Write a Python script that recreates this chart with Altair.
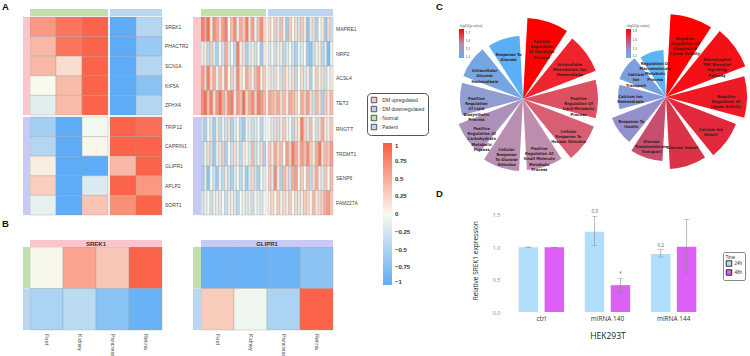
import altair as alt
import pandas as pd

# ---------------- Panel A, left: DM genes (z-scores) ----------------
up_genes = ["SREK1", "PHACTR2", "SCN1A", "KIF5A", "ZFHX4"]
down_genes = ["TRIP12", "CAPRIN1", "GLIPR1", "APLP2", "SORT1"]
# columns: normal x3, patient x2
srek1_z = [0.62, 0.85, 0.95, -1.00, -0.45]
phactr2_z = [0.42, 0.85, 0.95, -1.00, -0.62]
scn1a_z = [0.42, 0.18, 0.95, -1.00, -0.45]
kif5a_z = [0.00, 0.40, 0.95, -1.00, -0.72]
zfhx4_z = [-0.15, 0.40, 0.95, -1.00, -0.45]
trip12_z = [-0.55, -1.00, -0.03, 0.95, 0.88]
caprin1_z = [-0.45, -1.00, 0.03, 0.95, 0.95]
glipr1_z = [0.08, -1.00, -1.00, 0.42, 0.95]
aplp2_z = [0.28, -1.00, -0.20, 0.95, 0.62]
sort1_z = [-0.12, -1.00, 0.34, 0.68, 0.95]

# ---------------- Panel A, right: second gene set, 22 normal + 22 patient ----------------
right_genes_up = ["MAPRE1", "NRP2", "ACSL4", "TET3"]
right_genes_down = ["RNGTT", "TRDMT1", "SENP6", "FAM227A"]
mapre1_n = [0.8, 0.6, 0.9, 0.1, 0.7, 0.5, 0.2, 0.6, 0.8, 0.0, 0.4, 0.7, 0.1, 0.5, 0.3, 0.8, 0.2, 0.6, -0.1, 0.4, 0.7, 0.2]
mapre1_p = [0.2, 0.0, 0.3, -0.2, 0.4, 0.1, -0.6, 0.3, 0.0, 0.2, -0.3, 0.3, 0.1, -0.7, -0.2, 0.2, -0.5, 0.0, 0.1, -0.6, 0.2, -0.3]
nrp2_n = [-0.1, 0.1, -0.4, 0.3, -0.2, -0.5, 0.0, -0.3, 0.5, -0.2, 0.0, -0.4, 0.8, -0.1, 0.2, -0.5, -0.2, 0.1, -0.3, 0.0, -0.6, 0.1]
nrp2_p = [-0.2, 0.0, -0.3, -0.1, 0.1, -0.4, -0.2, 0.0, -0.3, -0.5, -0.1, -0.2, 0.0, -0.6, -0.7, -0.3, -0.1, 0.1, -0.4, -0.2, -0.8, -0.1]
acsl4_n = [0.6, 0.3, 0.8, 0.2, 0.5, -0.1, 0.4, 0.1, 0.6, 0.0, 0.3, -0.2, 0.7, 0.2, 0.0, 0.5, 0.3, -0.1, 0.4, 0.6, 0.1, 0.3]
acsl4_p = [0.1, -0.2, 0.2, 0.0, -0.3, 0.3, 0.1, -0.1, 0.2, -0.4, 0.0, 0.2, -0.2, 0.1, -0.5, 0.0, 0.3, -0.1, 0.2, -0.3, 0.0, 0.1]
tet3_n = [0.7, 0.9, 0.4, 0.8, 0.2, 0.6, 0.9, 0.5, 0.3, 0.7, 0.8, 0.1, 0.6, 0.4, 0.9, 0.2, 0.5, 0.7, 0.3, 0.8, 0.6, 0.4]
tet3_p = [0.5, 0.4, 0.3, 0.5, 0.2, 0.4, 0.1, 0.5, 0.4, 0.3, 0.0, 0.5, 0.3, 0.6, 0.2, -0.3, 0.4, 0.2, -0.5, 0.3, 0.1, 0.4]
rngtt_n = [-0.3, -0.5, 0.0, -0.2, -0.6, 0.1, -0.4, -0.1, -0.3, 0.2, -0.5, -0.2, 0.0, -0.4, -0.6, -0.1, 0.1, -0.3, -0.2, 0.0, -0.4, -0.1]
rngtt_p = [0.0, -0.2, 0.2, -0.3, 0.1, 0.3, -0.1, 0.0, -0.4, 0.2, 0.1, 0.8, 0.3, -0.2, 0.4, 0.0, -0.3, 0.2, 0.5, 0.1, -0.1, 0.3]
trdmt1_n = [-0.4, -0.1, 0.2, -0.3, -0.6, 0.1, -0.2, 0.3, -0.5, 0.0, -0.3, 0.2, -0.1, -0.4, 0.1, 0.0, -0.2, 0.4, -0.3, -0.1, 0.2, -0.5]
trdmt1_p = [0.3, 0.1, 0.5, 0.2, 0.4, 0.0, 0.6, 0.3, 0.8, 0.5, 0.2, 0.6, 0.4, 0.7, 0.3, 0.1, 0.5, 0.8, 0.2, 0.4, 0.3, 0.6]
senp6_n = [-0.5, -0.2, -0.7, 0.0, -0.3, -0.6, -0.1, -0.4, 0.1, -0.3, -0.5, -0.2, 0.0, -0.4, -0.1, -0.6, -0.2, 0.2, -0.3, -0.5, 0.0, -0.2]
senp6_p = [0.3, -0.2, 0.7, 0.1, -0.5, 0.4, 0.2, -0.3, 0.5, 0.6, -0.1, 0.3, 0.0, 0.4, -0.4, 0.2, 0.5, 0.1, -0.2, 0.3, 0.0, 0.4]
fam227a_n = [-0.2, -0.1, 0.0, -0.3, -0.1, 0.1, -0.2, 0.0, -0.3, -0.1, 0.1, -0.2, -0.4, 0.0, -0.1, -0.2, 0.1, -0.3, 0.0, -0.1, -0.2, 0.0]
fam227a_p = [0.1, 0.2, 0.0, 0.3, -0.1, 0.2, 0.1, 0.3, 0.0, 0.2, -0.2, 0.1, 0.3, 0.2, 0.0, 0.4, 0.1, 0.2, 0.3, 0.5, 0.6, 0.3]

# ---------------- Panel B: tissue expression ----------------
tissues = ["Foot", "Kidney", "Pancreas", "Retina"]
srek1_tissue_normal = [0.02, 0.55, 0.32, 0.95]
srek1_tissue_patient = [-0.50, -0.40, -0.72, -0.92]
glipr1_tissue_normal = [-0.92, -0.92, -0.90, -0.70]
glipr1_tissue_patient = [0.30, -0.06, -0.50, 0.95]

# ---------------- Panel C: enriched GO terms ----------------
left_terms = [
    "Positive\nRegulation\nOf Glycolytic\nProcess",
    "Intracellular\nMonoatomic Ion\nHomeostasis",
    "Positive\nRegulation Of\nLipid Metabolic\nProcess",
    "Cellular\nResponse To\nHexose Stimulus",
    "Positive\nRegulation Of\nSmall Molecule\nMetabolic\nProcess",
    "Cellular\nResponse\nTo Glucose\nStimulus",
    "Positive\nRegulation Of\nCarbohydrate\nMetabolic\nProcess",
    "Positive\nRegulation\nOf Lipid\nBiosynthetic\nProcess",
    "Intracellular\nGlucose\nHomeostasis",
    "Response To\nGlucose",
]
left_score = [8.1, 7.8, 7.5, 7.6, 7.1, 7.2, 6.9, 6.3, 6.4, 6.3]
left_logp = [1.75, 1.70, 1.64, 1.62, 1.55, 1.54, 1.52, 1.47, 1.43, 1.38]

right_terms = [
    "Negative\nRegulation Of\nLipoprotein\nLipase Activity",
    "Neurotrophin\nTRK Receptor\nSignaling\nPathway",
    "Negative\nRegulation Of\nLipase Activity",
    "Calcium Ion\nImport",
    "Glucose Import",
    "Glucose\nTransmembrane\nTransport",
    "Response To\nInsulin",
    "Calcium Ion\nHomeostasis",
    "Calcium\nIon\nTransport",
    "Regulation Of\nMacromolecule\nMetabolic\nProcess",
]
right_score = [8.3, 8.5, 8.1, 7.5, 7.2, 6.4, 5.8, 4.8, 5.0, 4.7]
right_logp = [1.85, 1.80, 1.77, 1.72, 1.69, 1.60, 1.38, 1.33, 1.30, 1.20]

# ---------------- Panel D: qPCR ----------------
groups = ["ctrl", "miRNA 140", "miRNA 144"]
times = ["24h", "48h"]
mean_24h = [1.00, 1.24, 0.895]
mean_48h = [1.00, 0.415, 1.01]
low_24h = [0.995, 1.03, 0.85]
high_24h = [1.005, 1.48, 0.965]
low_48h = [0.997, 0.31, 0.60]
high_48h = [1.003, 0.52, 1.43]
note_24h = ["", "0.3", "0.2"]
note_48h = ["", "*", ""]

annot_cats = ["DM upregulated", "DM downregulated", "Normal", "Patient"]
annot_colors = ["#f8c6cc", "#c9c9f6", "#c2dfae", "#bdd6ef"]

FONT = "Liberation Sans"
NARROW = "Liberation Sans Narrow, DejaVu Sans Condensed, Liberation Sans"
heat_scale = alt.Scale(domain=[-1, 0, 1], range=["#5eacf7", "#f8faee", "#fb5c41"], interpolate="rgb")
annot_scale = alt.Scale(domain=annot_cats, range=annot_colors)


def heatmap_panel(rows, n_up, n_normal, row_labels, x_px, y_px, row_gap_px, col_gap_px,
                  top_px, side_px, top_cats, side_cats, color_legend=None, fill_legend=None,
                  col_labels=None, header=None):
    n_rows, n_cols = len(rows), len(rows[0])
    col_w = (x_px[1] - x_px[0] - col_gap_px) / n_cols
    row_h = (y_px[1] - y_px[0] - row_gap_px) / n_rows
    rg, cg = row_gap_px / row_h, col_gap_px / col_w
    xs = alt.Scale(domain=[0, n_cols + cg], range=list(x_px), nice=False, zero=False)
    ys = alt.Scale(domain=[0, n_rows + rg], range=list(y_px), nice=False, zero=False)

    cells = []
    for r, vals in enumerate(rows):
        y0 = r + (rg if r >= n_up else 0)
        for c, v in enumerate(vals):
            x0 = c + (cg if c >= n_normal else 0)
            cells.append({"x0": x0, "x1": x0 + 1, "y0": y0, "y1": y0 + 1, "z": v})
    cells = pd.DataFrame(cells)

    th, tg = top_px[0] / row_h, top_px[1] / row_h
    sw = side_px / col_w
    bars = []
    if n_normal < n_cols:
        bars.append({"x0": 0, "x1": n_normal, "y0": -th - tg, "y1": -tg, "cat": top_cats[0]})
        bars.append({"x0": n_normal + cg, "x1": n_cols + cg, "y0": -th - tg, "y1": -tg, "cat": top_cats[1]})
    else:
        bars.append({"x0": 0, "x1": n_cols, "y0": -th - tg, "y1": -tg, "cat": top_cats[0]})
    if n_up < n_rows:
        bars.append({"x0": -sw, "x1": 0, "y0": 0, "y1": n_up, "cat": side_cats[0]})
        bars.append({"x0": -sw, "x1": 0, "y0": n_up + rg, "y1": n_rows + rg, "cat": side_cats[1]})
    else:
        for r in range(n_rows):
            bars.append({"x0": -sw, "x1": 0, "y0": r, "y1": r + 1, "cat": side_cats[r]})
    bars = pd.DataFrame(bars)

    heat = alt.Chart(cells).mark_rect(stroke="#9c9c9c", strokeWidth=0.35).encode(
        x=alt.X("x0:Q", scale=xs, axis=None), x2="x1:Q",
        y=alt.Y("y0:Q", scale=ys, axis=None), y2="y1:Q",
        color=alt.Color("z:Q", scale=heat_scale, legend=color_legend),
    )
    annot = alt.Chart(bars).mark_rect().encode(
        x=alt.X("x0:Q", scale=xs, axis=None), x2="x1:Q",
        y=alt.Y("y0:Q", scale=ys, axis=None), y2="y1:Q",
        fill=alt.Fill("cat:N", scale=annot_scale, legend=fill_legend),
    )
    layers = [heat, annot]
    if row_labels:
        lab = pd.DataFrame({"gene": row_labels,
                            "xl": [n_cols + cg] * n_rows,
                            "yl": [r + 0.5 + (rg if r >= n_up else 0) for r in range(n_rows)]})
        layers.append(alt.Chart(lab).mark_text(align="left", baseline="middle", dx=3, fontSize=5,
                                               font=FONT, color="#444").encode(
            x=alt.X("xl:Q", scale=xs, axis=None), y=alt.Y("yl:Q", scale=ys, axis=None), text="gene:N"))
    if col_labels:
        lab = pd.DataFrame({"tissue": col_labels, "xl": [c + 0.5 for c in range(n_cols)],
                            "yl": [n_rows] * n_cols})
        layers.append(alt.Chart(lab).mark_text(align="left", baseline="middle", angle=90, dx=4,
                                               fontSize=5.5, font=FONT, color="#444").encode(
            x=alt.X("xl:Q", scale=xs, axis=None), y=alt.Y("yl:Q", scale=ys, axis=None), text="tissue:N"))
    if header:
        hd = pd.DataFrame({"name": [header], "xl": [n_cols / 2], "yl": [-th / 2 - tg]})
        layers.append(alt.Chart(hd).mark_text(baseline="middle", fontSize=6, fontWeight="bold",
                                              font=FONT, color="#333").encode(
            x=alt.X("xl:Q", scale=xs, axis=None), y=alt.Y("yl:Q", scale=ys, axis=None), text="name:N"))
    return alt.layer(*layers)


heat_legend = alt.Legend(
    orient="none", legendX=383, legendY=143, direction="vertical", title=None,
    gradientLength=142, gradientThickness=9, gradientStrokeWidth=0,
    values=[1, 0.75, 0.5, 0.25, 0, -0.25, -0.5, -0.75, -1],
    labelExpr="format(datum.value, '~g')", labelFontSize=6, labelFontWeight="bold",
    labelColor="#333", labelFont=FONT, labelOffset=3, labelOverlap=False,
)
annot_legend = alt.Legend(
    orient="none", legendX=367, legendY=93, title=None, symbolType="square", symbolSize=30,
    symbolStrokeColor="#333", symbolStrokeWidth=0.8, labelFontSize=5, labelFont=FONT,
    labelColor="#333", labelExpr="': ' + datum.label", padding=3.5, strokeColor="#555",
    cornerRadius=4, rowPadding=0, labelOffset=2,
)

panel_a_left = heatmap_panel(
    [srek1_z, phactr2_z, scn1a_z, kif5a_z, zfhx4_z, trip12_z, caprin1_z, glipr1_z, aplp2_z, sort1_z],
    5, 3, up_genes + down_genes, (30, 162), (17, 215), 2, 2, (7, 1), 7,
    ["Normal", "Patient"], ["DM upregulated", "DM downregulated"],
    color_legend=heat_legend, fill_legend=annot_legend,
)
panel_a_right = heatmap_panel(
    [mapre1_n + mapre1_p, nrp2_n + nrp2_p, acsl4_n + acsl4_p, tet3_n + tet3_p,
     rngtt_n + rngtt_p, trdmt1_n + trdmt1_p, senp6_n + senp6_p, fam227a_n + fam227a_p],
    4, 22, right_genes_up + right_genes_down, (201, 333), (17, 215), 2, 2, (7, 1), 8,
    ["Normal", "Patient"], ["DM upregulated", "DM downregulated"],
)
panel_b_left = heatmap_panel(
    [srek1_tissue_normal, srek1_tissue_patient], 2, 4, None, (30, 162), (247, 330), 0, 0, (7, 0), 7,
    ["DM upregulated"], ["Normal", "Patient"], col_labels=tissues, header="SREK1",
)
panel_b_right = heatmap_panel(
    [glipr1_tissue_normal, glipr1_tissue_patient], 2, 4, None, (201, 333), (247, 330), 0, 0, (7, 0), 8,
    ["DM downregulated"], ["Normal", "Patient"], col_labels=tissues, header="GLIPR1",
)


def radial_panel(terms, score, logp, cx, cy, color_scale, legend_x, legend_values):
    n = len(terms)
    df = pd.DataFrame({"term": terms, "score": score, "logp": logp,
                       "t0": list(range(n)), "t1": [i + 1 for i in range(n)],
                       "tm": [i + 0.5 for i in range(n)]})
    rs = alt.Scale(type="linear", domain=[0, 8.5], range=[0, 85], zero=True, nice=False)
    ts = alt.Scale(type="linear", domain=[0, n], range=[0, 6.283185], zero=True, nice=False)
    arcs = alt.Chart(df).mark_arc(padAngle=0.11).encode(
        theta=alt.Theta("t0:Q", scale=ts, stack=False), theta2="t1:Q",
        radius=alt.Radius("score:Q", scale=rs),
        color=alt.Color("logp:Q", scale=color_scale, legend=alt.Legend(
            orient="none", legendX=legend_x, legendY=24, direction="vertical",
            title="-log10(p-value)", titleFontSize=3.5, titleColor="#555", titleFontWeight="normal",
            titlePadding=1.5, gradientLength=29, gradientThickness=5, gradientStrokeWidth=0,
            values=legend_values, labelFontSize=3.2, labelColor="#555", labelOffset=1.5,
            labelOverlap=False)),
        x=alt.value(cx), y=alt.value(cy),
    )
    labels = alt.Chart(df).transform_calculate(rl="datum.score * 0.74").mark_text(
        lineBreak="\n", fontSize=4.1, fontWeight="bold", font=NARROW, color="#3a1e1e",
        lineHeight=5.2, align="center", baseline="middle",
    ).encode(
        theta=alt.Theta("tm:Q", scale=ts, stack=False),
        radius=alt.Radius("rl:Q", scale=rs), text="term:N",
        x=alt.value(cx), y=alt.value(cy),
    )
    return alt.layer(arcs, labels)


panel_c_left = radial_panel(
    left_terms, left_score, left_logp, 523, 99,
    alt.Scale(domain=[1.38, 1.56, 1.75], range=["#5aaff7", "#c48aa8", "#ff0000"], interpolate="rgb"),
    459, [1.7, 1.6, 1.5, 1.4],
)
panel_c_right = radial_panel(
    right_terms, right_score, right_logp, 666, 97,
    alt.Scale(domain=[1.2, 1.4, 1.85], range=["#5ab4f8", "#9a8cc8", "#ff0000"], interpolate="rgb"),
    626, [1.8, 1.6, 1.4, 1.2],
)

# ---------------- Panel D ----------------
qpcr = pd.DataFrame({
    "group": groups * 2,
    "time": [times[0]] * 3 + [times[1]] * 3,
    "mean": mean_24h + mean_48h,
    "low": low_24h + low_48h,
    "high": high_24h + high_48h,
    "note": note_24h + note_48h,
})
dx_scale = alt.Scale(domain=groups, range=[503, 712], paddingInner=0, paddingOuter=0.08)
doff_scale = alt.Scale(domain=times, paddingInner=0.25, paddingOuter=0.4)
dy_scale = alt.Scale(domain=[0, 1.6], range=[312, 208.5], nice=False, zero=False)
d_base = alt.Chart(qpcr).encode(
    x=alt.X("group:N", scale=dx_scale, sort=groups, axis=alt.Axis(
        orient="bottom", offset=-44, title="HEK293T", titleFontSize=8.5, titleFont="Open Sans",
        titleFontWeight="normal", titleColor="#222", titlePadding=10, labelFontSize=6.5,
        labelFont="Open Sans", labelColor="#333", labelAngle=0, labelPadding=3, ticks=False, domain=False)),
    xOffset=alt.XOffset("time:N", scale=doff_scale),
)
d_bars = d_base.mark_bar().encode(
    y=alt.Y("mean:Q", scale=dy_scale, axis=alt.Axis(
        orient="left", offset=-503, values=[0, 0.25, 0.5, 0.75, 1.0, 1.25, 1.5],
        labelExpr="datum.value % 0.5 === 0 ? format(datum.value, '.1f') : ''",
        gridColor=alt.condition("datum.value % 0.5 === 0", alt.value("#e6e6e6"), alt.value("#f2f2f2")),
        gridWidth=0.6, ticks=False, domain=False, labelFontSize=5.5, labelColor="#888",
        labelFont="Open Sans", labelPadding=3,
        title="Relative SREK1 expression", titleFontSize=6.5, titleFont="Open Sans",
        titleFontWeight="normal", titleColor="#222", titlePadding=14)),
    color=alt.Color("time:N", scale=alt.Scale(domain=times, range=["#b1dffb", "#dd5ff5"]), legend=alt.Legend(
        orient="none", legendX=723, legendY=252, title="Time", titleFontSize=4.5, titleFontWeight="normal",
        titleColor="#333", titlePadding=1, labelFontSize=4.5, labelColor="#333", symbolType="square",
        symbolSize=30, symbolStrokeColor="black", symbolStrokeWidth=0.8, strokeColor="#888",
        padding=2.5, cornerRadius=1.5, rowPadding=0, labelOffset=2)),
)
d_rules = d_base.mark_rule(color="#888", strokeWidth=0.6).encode(
    y=alt.Y("low:Q", scale=dy_scale), y2="high:Q")
d_cap_hi = d_base.mark_tick(color="#888", size=6, thickness=0.6, orient="horizontal").encode(
    y=alt.Y("high:Q", scale=dy_scale))
d_cap_lo = d_base.mark_tick(color="#888", size=6, thickness=0.6, orient="horizontal").encode(
    y=alt.Y("low:Q", scale=dy_scale))
d_notes = d_base.mark_text(baseline="bottom", dy=-2, fontSize=4.5, color="#555", font="Open Sans").encode(
    y=alt.Y("high:Q", scale=dy_scale), text="note:N")
panel_d = alt.layer(d_bars, d_rules, d_cap_hi, d_cap_lo, d_notes)


def letter(ch, x, y):
    return alt.Chart(pd.DataFrame({"tag": [ch]})).mark_text(
        align="left", baseline="top", fontSize=9.5, fontWeight="bold", font=FONT, color="#111",
    ).encode(text="tag:N", x=alt.value(x), y=alt.value(y))


chart = alt.layer(
    panel_a_left, panel_a_right, panel_b_left, panel_b_right,
    panel_c_left, panel_c_right, panel_d,
    letter("A", 2, 2), letter("B", 2, 219), letter("C", 436, 2), letter("D", 436, 189),
).resolve_scale(
    x="independent", y="independent", color="independent", fill="independent",
    theta="independent", radius="independent", xOffset="independent",
).resolve_axis(x="independent", y="independent").resolve_legend(
    color="independent", fill="independent",
).properties(
    width=750, height=356, padding=0, autosize=alt.AutoSizeParams(type="none"), background="white",
).configure_view(stroke=None)

chart.save("out.html", embed_options={"renderer": "svg", "actions": False})
